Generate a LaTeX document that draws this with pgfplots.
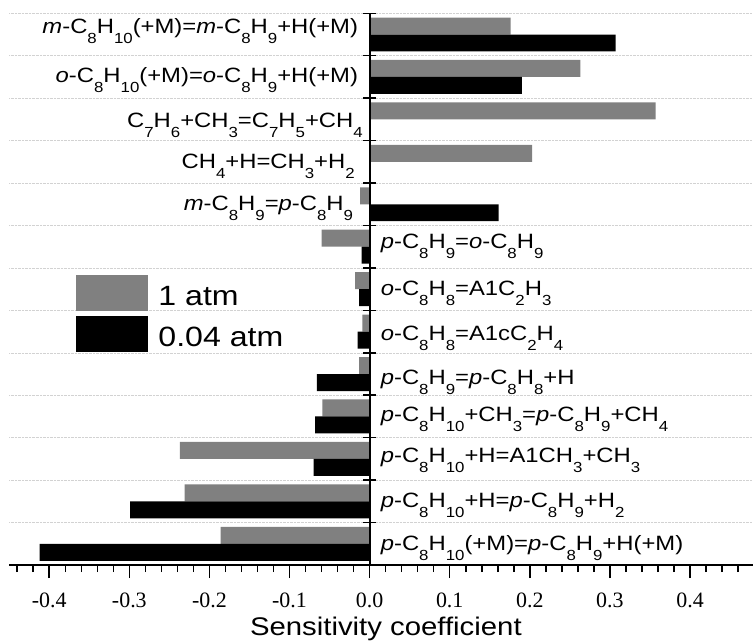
\documentclass[border=0pt]{standalone}
\usepackage{fontspec}
\setmainfont{Liberation Sans}[FakeStretch=1.15]
\newfontfamily\tickfont{Liberation Serif}
\usepackage{pgfplots}
\pgfplotsset{compat=1.18}
\definecolor{barGray}{RGB}{128,128,128}
\newcommand{\sub}[1]{\raisebox{-10bp}{\fontsize{14.7}{14.7}\selectfont #1}}
\newcommand{\lab}{\fontsize{20.8}{20.8}\selectfont}
\tikzset{rlab/.style={anchor=base east, font=\lab, inner sep=0pt},
         llab/.style={anchor=base west, font=\lab, inner sep=0pt, xshift=11bp}}

\begin{document}
\begin{tikzpicture}
\useasboundingbox (-9.2bp,-76bp) rectangle (743.8bp,565bp);
\begin{axis}[
  scale only axis, width=743.3bp, height=551.7bp,
  xmin=-0.45, xmax=0.478, ymin=-0.5, ymax=12.5,
  axis x line=bottom, axis y line=middle,
  axis line style={-, line width=2bp},
  hide obscured x ticks=false,
  axis on top,
  xtick={-0.4,-0.3,-0.2,-0.1,0,0.1,0.2,0.3,0.4},
  xticklabels={-0.4,-0.3,-0.2,-0.1,0.0,0.1,0.2,0.3,0.4},
  minor xtick={-0.44,-0.42,-0.38,-0.36,-0.34,-0.32,-0.28,-0.26,-0.24,-0.22,
               -0.18,-0.16,-0.14,-0.12,-0.08,-0.06,-0.04,-0.02,
               0.02,0.04,0.06,0.08,0.12,0.14,0.16,0.18,0.22,0.24,0.26,0.28,
               0.32,0.34,0.36,0.38,0.42,0.44,0.46},
  ytick={-0.5,0.5,1.5,2.5,3.5,4.5,5.5,6.5,7.5,8.5,9.5,10.5,11.5,12.5},
  yticklabels={},
  xtick align=outside, ytick align=center,
  major tick length=13bp, minor tick length=7bp,
  every tick/.style={black, line width=1.5bp},
  ymajorgrids, major grid style={densely dotted, gray!35, line width=0.6bp},
  xticklabel style={font=\tickfont\fontsize{22}{22}\selectfont, anchor=base, yshift=-29bp},
  xlabel={Sensitivity coefficient},
  xlabel style={font=\fontsize{25.6}{25.6}\selectfont, anchor=base,
                at={(axis description cs:0.5,0)}, yshift=-70bp, xshift=5bp},
  legend style={at={(axis cs:-0.367,6.334)}, anchor=north west, draw=none, fill=none,
                inner sep=0pt, font=\fontsize{28}{28}\selectfont,
                column sep=10.6bp, row sep=5bp, nodes={inner sep=0pt}},
  legend cell align=left,
]
% 1 atm
\addplot[xbar, bar width=0.4, bar shift=0.2, fill=barGray, draw=none,
  legend image code/.code={\fill[barGray] (0bp,-14.35bp) rectangle (72bp,21.35bp);}]
  coordinates {
  (-0.186,0) (-0.231,1) (-0.237,2) (-0.059,3) (-0.013,4) (-0.009,5) (-0.018,6)
  (-0.060,7) (-0.012,8) (0.203,9) (0.357,10) (0.263,11) (0.176,12)
};
\addlegendentry{1 atm}
% 0.04 atm
\addplot[xbar, bar width=0.4, bar shift=-0.2, fill=black, draw=none,
  legend image code/.code={\fill[black] (0bp,-14.35bp) rectangle (72bp,21.35bp);}]
  coordinates {
  (-0.412,0) (-0.299,1) (-0.070,2) (-0.068,3) (-0.066,4) (-0.015,5) (-0.013,6)
  (-0.010,7) (0.161,8) (0,9) (0,10) (0.190,11) (0.307,12)
};
\addlegendentry{0.04 atm}

\node[rlab, xshift=-11.4bp, yshift=1.3bp] at (axis cs:0,12)
  {\textit{m}-C\sub{8}H\sub{10}(+M)=\textit{m}-C\sub{8}H\sub{9}+H(+M)};
\node[rlab, xshift=-11.4bp, yshift=-6bp] at (axis cs:0,11)
  {\textit{o}-C\sub{8}H\sub{10}(+M)=\textit{o}-C\sub{8}H\sub{9}+H(+M)};
\node[rlab, xshift=-6.7bp, yshift=-7.8bp] at (axis cs:0,10)
  {C\sub{7}H\sub{6}+CH\sub{3}=C\sub{7}H\sub{5}+CH\sub{4}};
\node[rlab, xshift=-14.7bp, yshift=-7bp] at (axis cs:0,9)
  {CH\sub{4}+H=CH\sub{3}+H\sub{2}};
\node[rlab, xshift=-16.4bp, yshift=-6.7bp] at (axis cs:0,8)
  {\textit{m}-C\sub{8}H\sub{9}=\textit{p}-C\sub{8}H\sub{9}};
\node[llab, yshift=-1.3bp] at (axis cs:0,7)
  {\textit{p}-C\sub{8}H\sub{9}=\textit{o}-C\sub{8}H\sub{9}};
\node[llab, yshift=-6.7bp] at (axis cs:0,6)
  {\textit{o}-C\sub{8}H\sub{8}=A1C\sub{2}H\sub{3}};
\node[llab, yshift=-9bp] at (axis cs:0,5)
  {\textit{o}-C\sub{8}H\sub{8}=A1cC\sub{2}H\sub{4}};
\node[llab, yshift=-10bp] at (axis cs:0,4)
  {\textit{p}-C\sub{8}H\sub{9}=\textit{p}-C\sub{8}H\sub{8}+H};
\node[llab, yshift=-4.7bp] at (axis cs:0,3)
  {\textit{p}-C\sub{8}H\sub{10}+CH\sub{3}=\textit{p}-C\sub{8}H\sub{9}+CH\sub{4}};
\node[llab, yshift=-3.3bp] at (axis cs:0,2)
  {\textit{p}-C\sub{8}H\sub{10}+H=A1CH\sub{3}+CH\sub{3}};
\node[llab, yshift=-5.8bp] at (axis cs:0,1)
  {\textit{p}-C\sub{8}H\sub{10}+H=\textit{p}-C\sub{8}H\sub{9}+H\sub{2}};
\node[llab, yshift=-7bp] at (axis cs:0,0)
  {\textit{p}-C\sub{8}H\sub{10}(+M)=\textit{p}-C\sub{8}H\sub{9}+H(+M)};
\end{axis}
\end{tikzpicture}
\end{document}
